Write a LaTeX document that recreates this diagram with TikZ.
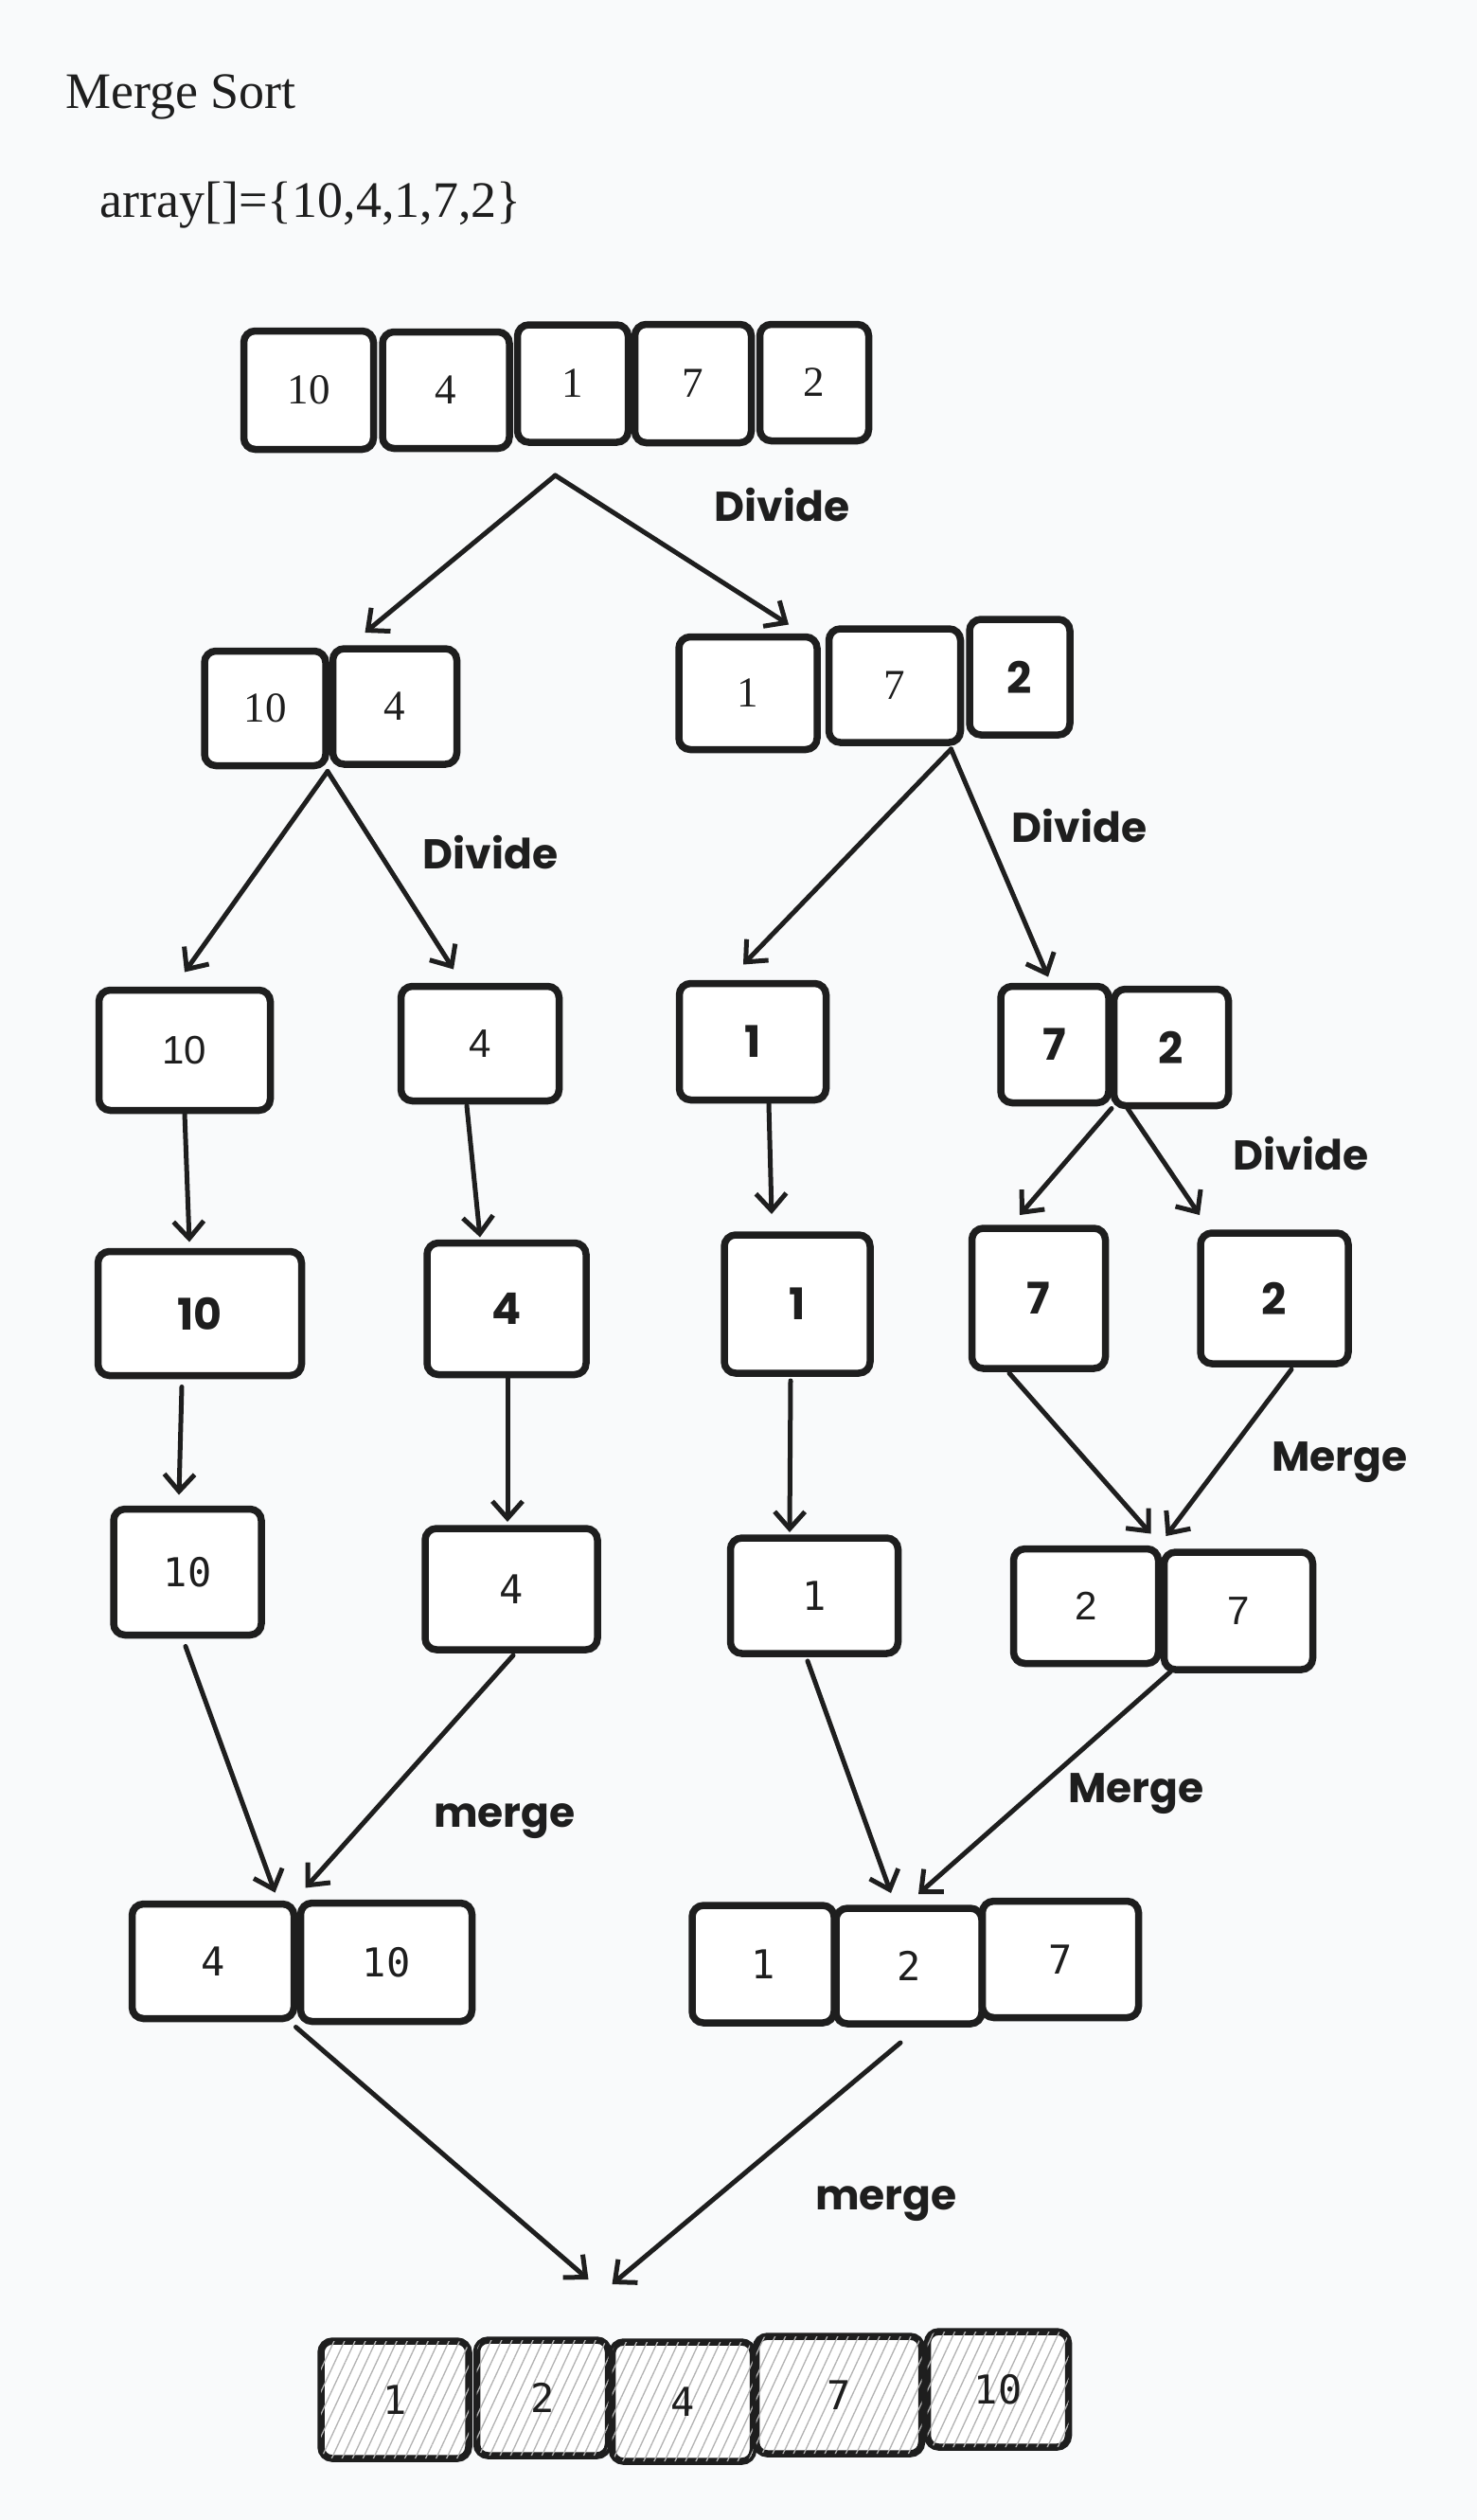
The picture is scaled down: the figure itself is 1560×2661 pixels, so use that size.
\documentclass[tikz,border=0pt]{standalone}
\usepackage{fontspec}
\setmainfont{Liberation Serif}
\newfontfamily\handfont{Poppins}
\newfontfamily\codefont{DejaVu Sans Mono}
\newfontfamily\narrowmono{Liberation Mono}
\newfontfamily\plainsans{Liberation Sans}
\usepackage{tikz}
\usetikzlibrary{arrows.meta, calc, patterns.meta}
\definecolor{ink1}{RGB}{30, 30, 30}
\definecolor{paper1}{RGB}{249, 250, 251}

\begin{document}
\begin{tikzpicture}[x=1pt, y=-1pt,
  cell/.style={draw=ink1, line width=7.5pt, rounded corners=12pt, fill=white, inner sep=0pt, outer sep=3pt, text=ink1},
  donecell/.style={cell, postaction={pattern={Lines[angle=65, distance=10pt, line width=1.3pt]}, pattern color=black!30}},
  sz/.style 2 args={minimum width=#1pt, minimum height=#2pt},
  sn/.style={font=\fontsize{45}{50}\selectfont},
  hn/.style={font=\handfont\bfseries\fontsize{46}{50}\selectfont},
  mn/.style={font=\codefont\fontsize{42}{48}\selectfont},
  ln/.style={font=\narrowmono\fontsize{44}{48}\selectfont},
  pn/.style={font=\plainsans\fontsize{42}{48}\selectfont},
  lbl/.style={anchor=base, text=ink1, font=\handfont\bfseries\fontsize{44}{50}\selectfont},
  arr/.style={draw=ink1, line width=5pt, line cap=round, line join=round, -{Straight Barb[length=18pt, width=32pt]}}
]
  \path[use as bounding box, fill=paper1] (0,0) rectangle (1560,2661);

  \node[anchor=base west, text=ink1, font=\fontsize{54}{60}\selectfont] (title) at (66,114) {Merge Sort};
  \node[anchor=base west, text=ink1, font=\fontsize{54}{60}\selectfont] (arrayline) at (102,229) {array[]=\{10,4,1,7,2\}};

  % input array
  \node[cell, sn, sz={137}{125}] (a1) at (326,412) {10};
  \node[cell, sn, sz={134}{123}] (a2) at (471,412) {4};
  \node[cell, sn, sz={117}{124}] (a3) at (605,405) {1};
  \node[cell, sn, sz={123}{125}] (a4) at (732,405) {7};
  \node[cell, sn, sz={115}{123}] (a5) at (860,404) {2};

  % first split
  \node[cell, sn, sz={128}{121}] (b1) at (280,748) {10};
  \node[cell, sn, sz={131}{122}] (b2) at (417,746) {4};
  \node[cell, sn, sz={146}{119}] (b3) at (790,732) {1};
  \node[cell, sn, sz={139}{120}] (b4) at (945,724) {7};
  \node[cell, hn, sz={106}{122}] (b5) at (1077,715) {2};

  % second split
  \node[cell, pn, sz={181}{127}] (c1) at (195,1109) {10};
  \node[cell, pn, sz={167}{121}] (c2) at (507,1102) {4};
  \node[cell, hn, sz={155}{123}] (c3) at (795,1100) {1};
  \node[cell, hn, sz={114}{123}] (c4) at (1114,1103) {7};
  \node[cell, hn, sz={121}{123}] (c5) at (1237,1106) {2};

  % single elements
  \node[cell, hn, sz={215}{131}] (d1) at (211,1387) {10};
  \node[cell, hn, sz={168}{139}] (d2) at (535,1382) {4};
  \node[cell, hn, sz={154}{146}] (d3) at (842,1377) {1};
  \node[cell, hn, sz={141}{148}] (d4) at (1097,1371) {7};
  \node[cell, hn, sz={156}{138}] (d5) at (1346,1371) {2};

  \node[cell, mn, sz={156}{133}] (e1) at (198,1660) {10};
  \node[cell, mn, sz={182}{128}] (e2) at (540,1678) {4};
  \node[cell, mn, sz={177}{122}] (e3) at (860,1685) {1};
  \node[cell, pn, sz={153}{121}] (e4) at (1147,1696) {2};
  \node[cell, pn, sz={157}{124}] (e5) at (1308,1701) {7};

  % merged halves
  \node[cell, mn, sz={171}{121}] (f1) at (225,2071) {4};
  \node[cell, mn, sz={181}{125}] (f2) at (408,2072) {10};
  \node[cell, mn, sz={150}{124}] (f3) at (806,2074) {1};
  \node[cell, mn, sz={154}{122}] (f4) at (960,2076) {2};
  \node[cell, mn, sz={165}{123}] (f5) at (1120,2069) {7};

  % sorted result
  \node[donecell, mn, sz={156}{124}] (g1) at (417,2534) {1};
  \node[donecell, mn, sz={139}{122}] (g2) at (573,2532) {2};
  \node[donecell, mn, sz={149}{126}] (g3) at (721,2536) {4};
  \node[donecell, mn, sz={175}{124}] (g4) at (886,2529) {7};
  \node[donecell, mn, sz={149}{122}] (g5) at (1054,2523) {10};

  \coordinate (s1) at ($(a3.south west)+(43,32)$);
  \coordinate (s2) at ($(b1.south east)+(-1,3)$);
  \coordinate (s3) at ($(b4.south east)+(-13,4)$);
  \coordinate (s4) at ($(c4.south east)+(0,3)$);

  \draw[arr] (s1) -- ($(b2.north west)+(37,-14)$);
  \draw[arr] (s1) -- ($(b3.north east)+(-33,-10)$);
  \draw[arr] (s2) -- ($(c1.north)+(0,-16)$);
  \draw[arr] (s2) -- ($(c2.north)+(-28,-15)$);
  \draw[arr] (s3) -- ($(c3.north)+(-10,-17)$);
  \draw[arr] (s3) -- ($(c4.north)+(-7,-7)$);

  \draw[arr] (c1.south) -- ($(d1.north)+(-11,-7)$);
  \draw[arr] ($(c2.south)+(-14,2)$) -- ($(d2.north)+(-28,-3)$);
  \draw[arr] ($(c3.south)+(17,1)$) -- ($(d3.north)+(-27,-19)$);
  \draw[arr] (s4) -- ($(d4.north)+(-20,-11)$);
  \draw[arr] ($(c5.south)+(-46,0)$) -- ($(d5.north)+(-79,-16)$);

  \draw[arr] ($(d1.south)+(-19,9)$) -- ($(e1.north)+(-9,-12)$);
  \draw[arr] ($(d2.south)+(1,1)$) -- ($(e2.north)+(-4,-4)$);
  \draw[arr] ($(d3.south)+(-7,5)$) -- ($(e3.north)+(-26,-3)$);
  \draw[arr] ($(d4.south)+(-31,2)$) -- ($(e4.north east)+(-11,-13)$);
  \draw[arr] ($(d5.south)+(18,3)$) -- ($(e5.north west)+(5,-14)$);

  \draw[arr] ($(e1.south)+(-2,9)$) -- ($(f1.north east)+(-23,-9)$);
  \draw[arr] ($(e2.south)+(2,3)$) -- ($(f2.north west)+(8,-13)$);
  \draw[arr] ($(e3.south)+(-7,5)$) -- ($(f4.north)+(-19,-13)$);
  \draw[arr] ($(e5.south west)+(10,-1)$) -- ($(f4.north)+(10,-12)$);

  \draw[arr] ($(f1.south east)+(-1,6)$) -- ($(g3.north west)+(-22,-63)$);
  \draw[arr] ($(f4.south)+(-9,17)$) -- ($(g3.north west)+(3,-58)$);

  \node[lbl] (div1) at (826,550) {Divide};
  \node[lbl] (div2) at (518,917) {Divide};
  \node[lbl] (div3) at (1140,889) {Divide};
  \node[lbl] (div4) at (1374,1235) {Divide};
  \node[lbl] (mrg1) at (1415,1553) {Merge};
  \node[lbl] (mrg2) at (533,1929) {merge};
  \node[lbl] (mrg3) at (1200,1903) {Merge};
  \node[lbl] (mrg4) at (936,2333) {merge};
\end{tikzpicture}
\end{document}
